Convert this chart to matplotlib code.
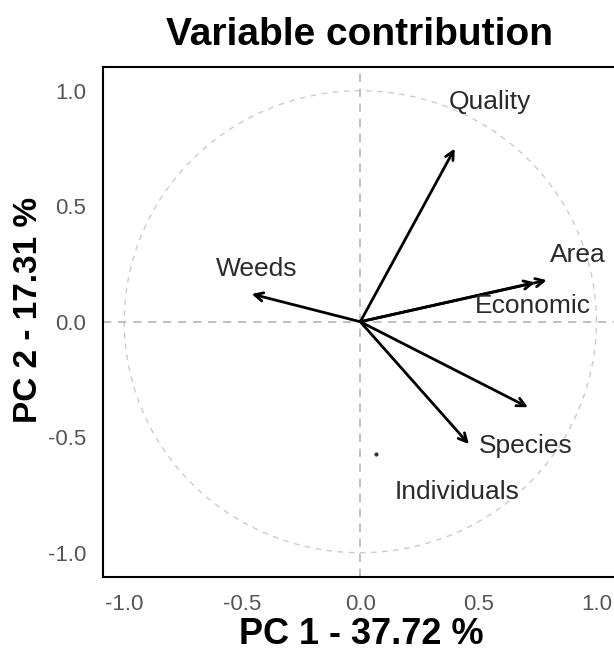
import numpy as np
import matplotlib
matplotlib.use('Agg')
import matplotlib.pyplot as plt

plt.rcParams['font.family'] = ['Liberation Sans', 'DejaVu Sans']

# variable loadings on PC1 / PC2
variables = ['Weeds', 'Quality', 'Area', 'Economic', 'Species', 'Individuals']
pc1 = [-0.46, 0.40, 0.79, 0.74, 0.71, 0.46]
pc2 = [0.12, 0.75, 0.18, 0.17, -0.37, -0.53]
# where the (repelled) labels ended up
lab_x = [-0.44, 0.55, 0.92, 0.73, 0.70, 0.41]
lab_y = [0.23, 0.95, 0.29, 0.07, -0.54, -0.735]
stray_pt = (0.066, -0.571)

fig = plt.figure(figsize=(6.14, 6.53), dpi=100)
W, H = 614, 653
ax = fig.add_axes([103 / W, 76 / H, 517 / W, 510.5 / H])

t = np.linspace(0, 2 * np.pi, 400)
ax.plot(np.cos(t), np.sin(t), color='#cccccc', lw=1.0, ls=(0, (4, 4)), zorder=1)
ax.axhline(0, color='#b5b5b5', lw=1.2, ls=(0, (5, 4)), zorder=1)
ax.axvline(0, color='#b5b5b5', lw=1.2, ls=(0, (5, 4)), zorder=1)

for x, y in zip(pc1, pc2):
    ax.annotate('', xy=(x, y), xytext=(0, 0),
                arrowprops=dict(arrowstyle='->,head_length=0.6,head_width=0.3',
                                color='black', lw=2.0, shrinkA=0, shrinkB=0))
for name, x, y in zip(variables, lab_x, lab_y):
    ax.text(x, y, name, ha='center', va='center', fontsize=19, color='#2a2a2a')
ax.plot([stray_pt[0]], [stray_pt[1]], 'o', color='#333333', ms=2)

ax.set_xlim(-1.09, 1.1)
ax.set_ylim(-1.105, 1.105)
ax.set_xticks([-1.0, -0.5, 0.0, 0.5, 1.0])
ax.set_yticks([-1.0, -0.5, 0.0, 0.5, 1.0])
ax.set_xticklabels(['-1.0', '-0.5', '0.0', '0.5', '1.0'])
ax.set_yticklabels(['-1.0', '-0.5', '0.0', '0.5', '1.0'])
ax.tick_params(length=0, labelsize=16, labelcolor='#555555', pad=12)
for s in ax.spines.values():
    s.set_linewidth(1.5)
    s.set_color('black')

ax.set_xlabel('PC 1 - 37.72 %', fontsize=26, fontweight='bold', labelpad=2)
fig.text(29 / W, 1 - 310 / H, 'PC 2 - 17.31 %', rotation=90, ha='center', va='center',
         fontsize=24, fontweight='bold')
fig.text(360 / W, 1 - 35 / H, 'Variable contribution', ha='center', va='center',
         fontsize=28, fontweight='bold')

fig.savefig('out.png', dpi=100)
